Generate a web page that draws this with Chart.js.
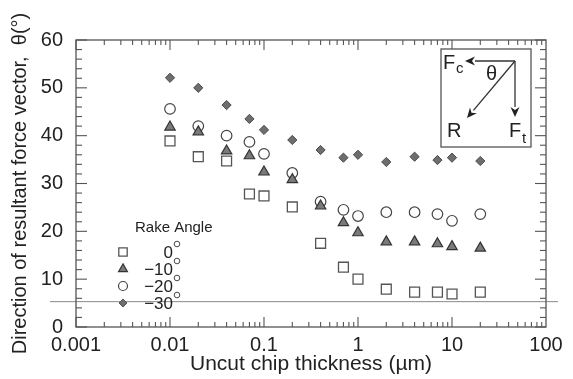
<!DOCTYPE html>
<html>
<head>
<meta charset="utf-8">
<script src="https://cdn.jsdelivr.net/npm/chart.js@4.4.0/dist/chart.umd.min.js"></script>
<style>
  html, body { margin: 0; padding: 0; background: #fff; }
</style>
</head>
<body>
<canvas id="c" width="573" height="379"></canvas>
<script>
// valeurs
const thickness = [0.01, 0.02, 0.04, 0.07, 0.1, 0.2, 0.4, 0.7, 1, 2, 4, 7, 10, 20];
const rake0  = [38.9, 35.6, 34.7, 27.8, 27.4, 25.1, 17.5, 12.5, 10.0, 7.9, 7.3, 7.3, 6.9, 7.3];
const rake10 = [41.8, 40.8, 36.8, 35.8, 32.4, 30.8, 25.3, 21.8, 19.7, 17.8, 17.8, 17.4, 16.8, 16.5];
const rake20 = [45.6, 42.0, 40.0, 38.7, 36.2, 32.2, 26.2, 24.5, 23.2, 24.0, 24.0, 23.6, 22.2, 23.6];
const rake30 = [52.1, 50.0, 46.4, 43.5, 41.2, 39.1, 37.0, 35.4, 36.0, 34.5, 35.6, 34.9, 35.4, 34.7];
const rakeLabels = ['0', '\u221210', '\u221220', '\u221230'];
const xTicks = [0.001, 0.01, 0.1, 1, 10, 100];
const yTicks = [0, 10, 20, 30, 40, 50, 60];
const refLine = 5.3;

const FONT = "'Liberation Sans', Arial, Helvetica, sans-serif";
const AXIS = '#555';

function pts(vals) {
    return thickness.map((t, i) => ({ x: t, y: vals[i] }));
}

const styles = [
    { pointStyle: 'rect', radius: 7, bg: 'rgba(0,0,0,0)', border: '#555', bw: 1.3 },
    { pointStyle: 'triangle', radius: 6, bg: '#7a7a7a', border: '#333', bw: 1.2 },
    { pointStyle: 'circle', radius: 5.3, bg: 'rgba(0,0,0,0)', border: '#444', bw: 1.2 },
    { pointStyle: 'rectRot', radius: 4.6, bg: '#6e6e6e', border: '#4a4a4a', bw: 1 }
];
const series = [rake0, rake10, rake20, rake30];

const datasets = series.map((s, i) => ({
    label: rakeLabels[i],
    data: pts(s),
    showLine: false,
    pointStyle: styles[i].pointStyle,
    pointRadius: styles[i].radius,
    pointHoverRadius: styles[i].radius,
    pointBackgroundColor: styles[i].bg,
    pointBorderColor: styles[i].border,
    pointBorderWidth: styles[i].bw
}));

function line(ctx, x1, y1, x2, y2) {
    ctx.beginPath();
    ctx.moveTo(x1, y1);
    ctx.lineTo(x2, y2);
    ctx.stroke();
}

function arrow(ctx, x1, y1, x2, y2) {
    const ang = Math.atan2(y2 - y1, x2 - x1), L = 10, W = 4.5;
    const bx = x2 - Math.cos(ang) * L, by = y2 - Math.sin(ang) * L;
    line(ctx, x1, y1, bx, by);
    ctx.beginPath();
    ctx.moveTo(x2, y2);
    ctx.lineTo(bx + Math.sin(ang) * W, by - Math.cos(ang) * W);
    ctx.lineTo(bx + Math.cos(ang) * 3, by + Math.sin(ang) * 3);
    ctx.lineTo(bx - Math.sin(ang) * W, by + Math.cos(ang) * W);
    ctx.closePath();
    ctx.fill();
}

// cadre, graduations internes, ligne de référence, légende et schéma
const decor = {
    id: 'decor',
    afterDatasetsDraw(chart) {
        const { ctx, chartArea: a, scales: { x, y } } = chart;
        ctx.save();

        // ligne horizontale de référence
        ctx.strokeStyle = '#8a8a8a';
        ctx.lineWidth = 1;
        const yr = y.getPixelForValue(refLine);
        line(ctx, a.left - 26, yr, a.right + 12, yr);

        // cadre
        ctx.strokeStyle = AXIS;
        ctx.lineWidth = 1.3;
        ctx.strokeRect(a.left, a.top, a.right - a.left, a.bottom - a.top);

        // graduations x (log)
        ctx.lineWidth = 1.1;
        for (let e = -3; e < 2; e++) {
            for (let m = 1; m <= 9; m++) {
                const px = x.getPixelForValue(m * Math.pow(10, e));
                const len = m === 1 ? 10 : 5;
                line(ctx, px, a.bottom, px, a.bottom - len);
                line(ctx, px, a.top, px, a.top + len);
            }
        }
        // graduations y
        for (let v = 0; v <= 60; v += 2) {
            const py = y.getPixelForValue(v);
            const len = v % 10 === 0 ? 11 : 6;
            line(ctx, a.left, py, a.left + len, py);
            line(ctx, a.right, py, a.right - len, py);
        }

        // légende
        ctx.fillStyle = '#222';
        ctx.font = '15px ' + FONT;
        ctx.textAlign = 'left';
        ctx.textBaseline = 'alphabetic';
        ctx.fillText('Rake Angle', a.left + 59, a.top + 192);
        const draw = Chart.helpers && Chart.helpers.drawPoint;
        for (let i = 0; i < 4; i++) {
            const ry = a.top + 212 + i * 17;
            const st = styles[i];
            ctx.fillStyle = st.bg;
            ctx.strokeStyle = st.border;
            ctx.lineWidth = st.bw;
            if (draw) draw(ctx, { pointStyle: st.pointStyle, radius: st.radius * 0.85, rotation: 0, borderWidth: st.bw }, a.left + 47, ry);
            ctx.fillStyle = '#222';
            ctx.font = '17px ' + FONT;
            ctx.textAlign = 'right';
            ctx.fillText(rakeLabels[i], a.left + 97, ry + 6);
            ctx.strokeStyle = '#333';
            ctx.lineWidth = 0.9;
            ctx.beginPath();
            ctx.arc(a.left + 101, ry - 8, 2.8, 0, Math.PI * 2);
            ctx.stroke();
        }

        // schéma des forces
        const bl = a.right - 105, bt = a.top + 9, br = a.right - 15, bb = a.top + 107;
        ctx.strokeStyle = AXIS;
        ctx.lineWidth = 1.3;
        ctx.fillStyle = '#fff';
        ctx.fillRect(bl, bt, br - bl, bb - bt);
        ctx.strokeRect(bl, bt, br - bl, bb - bt);
        const ox = br - 16, oy = bt + 12;
        ctx.strokeStyle = '#333';
        ctx.fillStyle = '#222';
        ctx.lineWidth = 1.3;
        arrow(ctx, ox, oy, ox - 50, oy);
        arrow(ctx, ox, oy, ox, oy + 56);
        arrow(ctx, ox, oy, ox - 48, oy + 57);
        ctx.textAlign = 'left';
        ctx.font = '20px ' + FONT;
        ctx.fillText('F', bl + 2, bt + 20);
        ctx.fillText('R', bl + 6, bb - 10);
        ctx.fillText('F', ox - 6, bb - 10);
        ctx.fillText('\u03b8', ox - 29, oy + 19);
        ctx.font = '15px ' + FONT;
        ctx.fillText('c', bl + 15, bt + 24);
        ctx.fillText('t', ox + 7, bb - 4);

        ctx.restore();
    }
};

new Chart(document.getElementById('c'), {
    type: 'scatter',
    data: { datasets: datasets },
    options: {
        responsive: false,
        animation: false,
        layout: { padding: { top: 40, right: 27, left: 0, bottom: 0 } },
        plugins: { legend: { display: false }, tooltip: { enabled: false } },
        scales: {
            x: {
                type: 'logarithmic',
                min: 0.001,
                max: 100,
                afterBuildTicks: (s) => { s.ticks = xTicks.map(v => ({ value: v })); },
                afterFit: (s) => { s.height = 52; },
                grid: { display: false },
                border: { display: false },
                ticks: {
                    autoSkip: false,
                    maxRotation: 0,
                    padding: -2,
                    color: '#222',
                    font: { family: FONT, size: 20 },
                    callback: (v) => String(v)
                },
                title: {
                    display: true,
                    text: 'Uncut chip thickness (\u00b5m)',
                    color: '#222',
                    font: { family: FONT, size: 21 },
                    padding: { top: 0, bottom: 2 }
                }
            },
            y: {
                min: 0,
                max: 60,
                afterBuildTicks: (s) => { s.ticks = yTicks.map(v => ({ value: v })); },
                afterFit: (s) => { s.width = 76; },
                grid: { display: false },
                border: { display: false },
                ticks: {
                    padding: 5,
                    color: '#222',
                    font: { family: FONT, size: 20 }
                },
                title: {
                    display: true,
                    text: 'Direction of resultant force vector,  \u03b8(\u00b0)',
                    color: '#222',
                    font: { family: FONT, size: 20 },
                    padding: { top: 8, bottom: 0 }
                }
            }
        }
    },
    plugins: [decor]
});
</script>
</body>
</html>
